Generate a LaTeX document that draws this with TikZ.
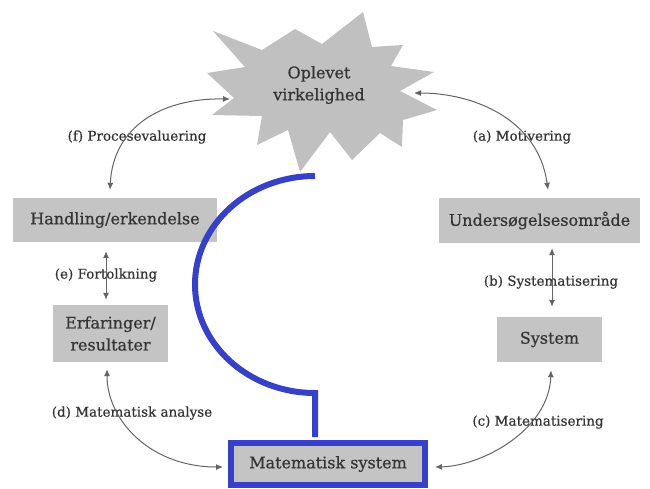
\documentclass[tikz,border=0pt]{standalone}
\usepackage{fontspec}
\setmainfont{DejaVu Serif}[FakeBold=0.6]
\usepackage{tikz}
\usetikzlibrary{arrows.meta}
\usepackage{xcolor}
\definecolor{boxgray}{RGB}{196,196,196}
\definecolor{stargray}{RGB}{192,192,192}
\definecolor{txtgray}{RGB}{52,52,52}
\definecolor{arrgray}{RGB}{100,100,100}
\definecolor{modelblue}{RGB}{55,65,200}

\begin{document}
\begin{tikzpicture}[x=1pt, y=-1pt,
    box/.style={fill=boxgray, inner sep=0pt, text=txtgray, font=\fontsize{16}{22}\selectfont, align=center},
    lbl/.style={inner sep=0pt, text=txtgray, font=\fontsize{13.5}{16}\selectfont},
    arr/.style={arrgray, line width=1pt, {Latex[length=7pt,width=6pt]}-{Latex[length=7pt,width=6pt]}}
  ]
  \useasboundingbox (0,0) rectangle (650,488);
  % star
  \fill[stargray] (363,12) -- (372,47) -- (403,45) -- (391,66) -- (434,72) -- (400,91)
    -- (437,110) -- (403,120) -- (402,147) -- (380,133) -- (352,160) -- (330,132)
    -- (300,172) -- (288,130) -- (257,145) -- (262,116) -- (212,115) -- (234,98)
    -- (207,73) -- (245,67) -- (213,31) -- (262,50) -- (295,29) -- (322,44) -- cycle;
  \node[box, fill=none] (real) at (319,85) {Oplevet\\virkelighed};
  \coordinate (starL) at (230,99);
  \coordinate (starR) at (414,93);
  % boxes
  \node[box, minimum width=204pt, minimum height=44pt] (hand) at (115,220) {Handling/erkendelse};
  \node[box, minimum width=115pt, minimum height=57pt] (erf) at (110.5,333.5) {Erfaringer/\\resultater};
  \node[box, minimum width=201pt, minimum height=45pt] (und) at (539.5,220.5) {Undersøgelsesområde};
  \node[box, minimum width=105pt, minimum height=45pt] (sys) at (549.5,339.5) {System};
  \node[box, draw=modelblue, line width=6pt, minimum width=194pt, minimum height=42pt] (mat) at (328,464) {Matematisk system};
  % blue curve
  \coordinate (bluetop) at (315,176);
  \draw[modelblue, line width=6pt] (bluetop) arc[start angle=270, end angle=90, x radius=120, y radius=108.5]
    -- ([yshift=3pt]bluetop |- mat.north);
  % labels
  \node[lbl] (lf) at (137,137) {(f) Procesevaluering};
  \node[lbl] (la) at (522,137) {(a) Motivering};
  \node[lbl] (le) at (106,275) {(e) Fortolkning};
  \node[lbl] (lb) at (551,282) {(b) Systematisering};
  \node[lbl] (ld) at (132,413) {(d) Matematisk analyse};
  \node[lbl] (lc) at (538,422) {(c) Matematisering};
  % arrows
  \draw[arr] ([xshift=-5pt, yshift=8pt]hand.north) .. controls (113,128) and (160,98) .. (starL);
  \draw[arr] (starR) .. controls (472,93) and (538,118) .. ([xshift=8.5pt, yshift=8pt]und.north);
  \draw[arr] ([xshift=-9pt, yshift=-9pt]hand.south) -- ([xshift=-4.5pt, yshift=5pt]erf.north);
  \draw[arr] ([xshift=12.5pt, yshift=-5pt]und.south) -- ([xshift=2.5pt, yshift=10pt]sys.north);
  \draw[arr] ([xshift=-3.5pt, yshift=-7pt]erf.south) .. controls (107,420) and (150,467) .. ([xshift=-5pt, yshift=-3pt]mat.west);
  \draw[arr] ([xshift=1.5pt, yshift=-8pt]sys.south) .. controls (549,430) and (482,466) .. ([xshift=7pt, yshift=-3pt]mat.east);
\end{tikzpicture}
\end{document}
